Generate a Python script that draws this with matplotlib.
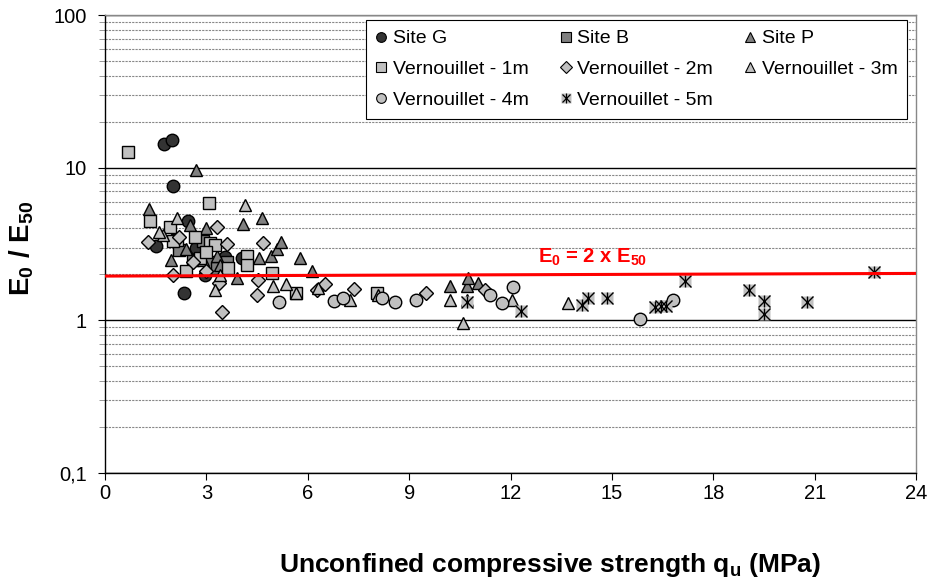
import matplotlib
matplotlib.use('Agg')
import matplotlib.pyplot as plt
from matplotlib.lines import Line2D
from matplotlib.legend_handler import HandlerTuple
from matplotlib.ticker import FixedLocator, LogLocator, NullFormatter

plt.rcParams['font.family'] = ['Liberation Sans', 'DejaVu Sans']
plt.rcParams['mathtext.fontset'] = 'custom'
plt.rcParams['mathtext.rm'] = 'Liberation Sans'
plt.rcParams['mathtext.bf'] = 'Liberation Sans:bold'

# --- data (qu in MPa, E0/E50) ---
site_g_x = [1.75, 1.98, 2.0, 2.45, 1.5, 2.35, 2.95, 3.55, 4.05, 2.7, 3.2]
site_g_y = [14.2, 15.3, 7.6, 4.5, 3.05, 1.5, 1.97, 2.6, 2.55, 3.0, 2.3]

site_b_x = [2.2, 2.6, 3.1, 3.3, 2.9, 3.6]
site_b_y = [2.9, 2.5, 2.4, 2.2, 3.3, 2.4]

site_p_x = [1.3, 2.7, 1.95, 2.5, 3.0, 2.4, 3.3, 3.9, 4.08, 4.64, 4.55, 4.9, 5.1, 5.2,
            5.77, 6.12, 10.2, 10.7, 10.75, 11.05, 2.9, 3.4]
site_p_y = [5.4, 9.6, 2.47, 4.2, 4.0, 2.95, 2.65, 1.9, 4.3, 4.7, 2.55, 2.65, 2.95, 3.25,
            2.58, 2.12, 1.69, 1.69, 1.9, 1.77, 2.5, 2.3]

v1_x = [0.68, 1.33, 1.92, 2.13, 2.66, 3.1, 3.25, 2.8, 2.4, 3.64, 4.2, 4.2, 4.94, 5.65,
        8.05, 3.08, 2.0, 3.0]
v1_y = [12.6, 4.5, 4.06, 3.34, 3.5, 3.2, 3.1, 2.58, 2.12, 2.19, 2.66, 2.3, 2.03, 1.52,
        1.5, 5.84, 3.3, 2.8]

v2_x = [1.27, 2.0, 2.6, 3.3, 3.6, 3.37, 3.45, 4.5, 4.53, 4.67, 6.27, 6.5, 7.37, 9.5,
        11.24, 3.0, 2.2]
v2_y = [3.24, 1.97, 2.4, 4.06, 3.15, 1.75, 1.13, 1.46, 1.83, 3.19, 1.57, 1.72, 1.6, 1.5,
        1.57, 2.1, 3.5]

v3_x = [1.72, 2.13, 3.25, 3.4, 4.14, 4.97, 5.36, 5.65, 6.3, 7.25, 8.08, 10.2, 10.6,
        10.7, 12.04, 13.7, 1.6]
v3_y = [3.6, 4.7, 1.57, 1.97, 5.66, 1.69, 1.74, 1.52, 1.62, 1.35, 1.46, 1.35, 0.96,
        1.35, 1.35, 1.29, 3.8]

v4_x = [5.15, 6.78, 7.05, 8.2, 8.58, 9.2, 11.4, 11.75, 12.07, 15.83, 16.8]
v4_y = [1.31, 1.33, 1.41, 1.41, 1.31, 1.35, 1.46, 1.29, 1.65, 1.02, 1.35]

v5_x = [10.7, 12.3, 14.1, 14.3, 14.85, 16.27, 16.45, 16.6, 17.16, 19.05, 19.5, 19.5,
        20.77, 22.75]
v5_y = [1.31, 1.15, 1.27, 1.41, 1.41, 1.22, 1.25, 1.25, 1.8, 1.57, 1.33, 1.1, 1.31, 2.06]

ref_x = [0, 24]
ref_y = [1.95, 2.03]

x_ticks = [0, 3, 6, 9, 12, 15, 18, 21, 24]
y_ticks = [0.1, 1, 10, 100]
y_labels = ['0,1', '1', '10', '100']

dark = '#333333'
mid = '#808080'
light = '#c0c0c0'

fig = plt.figure(figsize=(9.31, 5.80), dpi=100)
ax = fig.add_axes([0.1128, 0.1845, 0.8712, 0.7895])

# grid
ax.set_yscale('log')
ax.set_xlim(0, 24)
ax.set_ylim(0.1, 100)
ax.yaxis.set_minor_locator(LogLocator(base=10, subs=range(2, 10)))
ax.yaxis.set_minor_formatter(NullFormatter())
ax.grid(True, which='major', axis='y', color='black', lw=1.0)
ax.grid(True, which='minor', axis='y', color='#888888', lw=0.8, ls=(0, (2, 1)))
ax.set_axisbelow(True)

ms = 9
kw = dict(ls='none', markeredgecolor='black', markeredgewidth=1.0, ms=ms)
ax.plot(site_g_x, site_g_y, 'o', color=dark, **kw, zorder=3)
ax.plot(site_b_x, site_b_y, 's', color=mid, **kw, zorder=3)
ax.plot(site_p_x, site_p_y, '^', color=mid, **kw, zorder=3)
ax.plot(v1_x, v1_y, 's', color=light, **kw, zorder=3)
ax.plot(v2_x, v2_y, 'D', color=light, ls='none', markeredgecolor='black',
        markeredgewidth=1.0, ms=7, zorder=3)
ax.plot(v3_x, v3_y, '^', color=light, **kw, zorder=3)
ax.plot(v4_x, v4_y, 'o', color=light, **kw, zorder=3)
ax.plot(v5_x, v5_y, 's', color=light, ls='none', markeredgecolor='none', ms=ms, zorder=3)
ax.plot(v5_x, v5_y, 'x', color='black', ls='none', ms=8, mew=1.0, zorder=4)
ax.plot(v5_x, v5_y, '|', color='black', ls='none', ms=9, mew=1.0, zorder=4)

ax.plot(ref_x, ref_y, color='red', lw=2.2, zorder=5)
ax.text(12.8, 2.2, 'E$_\\mathbf{0}$ = 2 x E$_\\mathbf{50}$', color='red', fontsize=14.5,
        fontweight='bold', ha='left', va='bottom')

# axes styling
ax.set_xticks(x_ticks)
ax.set_xticklabels([str(t) for t in x_ticks])
ax.yaxis.set_major_locator(FixedLocator(y_ticks))
ax.set_yticklabels(y_labels)
ax.tick_params(axis='both', which='major', labelsize=14.5, direction='out', length=5,
               color='black')
ax.tick_params(axis='x', which='major', pad=3)
ax.tick_params(axis='y', which='major', pad=8)
ax.tick_params(axis='y', which='minor', direction='out', length=4, color='#888888')
for s in ['left', 'bottom']:
    ax.spines[s].set_color('black')
    ax.spines[s].set_linewidth(1.0)
for s in ['top', 'right']:
    ax.spines[s].set_color('#888888')
    ax.spines[s].set_linewidth(1.0)

# axis titles, placed in figure pixels
fig.text(22 / 931, 1 - 248 / 580, 'E$_\\mathbf{0}$ / E$_\\mathbf{50}$',
         fontsize=20, fontweight='bold', rotation=90, ha='center', va='center')
fig.text(550 / 931, 1 - 572 / 580, 'Unconfined compressive strength q$_\\mathbf{u}$ (MPa)',
         fontsize=19, fontweight='bold', ha='center', va='baseline')

# legend
lms = 7
def h(marker, face, size=lms):
    return Line2D([], [], marker=marker, ls='none', markerfacecolor=face,
                  markeredgecolor='black', markeredgewidth=0.8, ms=size)

h5 = (Line2D([], [], marker='s', ls='none', markerfacecolor=light,
             markeredgecolor='none', ms=lms),
      Line2D([], [], marker='x', ls='none', color='black', ms=6, mew=0.9),
      Line2D([], [], marker='|', ls='none', color='black', ms=7, mew=0.9))

handles = [h('o', dark), h('s', light), h('o', light),
           h('s', mid), h('D', light, 6), h5,
           h('^', mid), h('^', light)]
labels = ['Site G', 'Vernouillet - 1m', 'Vernouillet - 4m',
          'Site B', 'Vernouillet - 2m', 'Vernouillet - 5m',
          'Site P', 'Vernouillet - 3m']
leg = ax.legend(handles, labels, ncol=3, loc='upper right',
                bbox_to_anchor=(0.989, 0.989), fontsize=14, frameon=True,
                fancybox=False, edgecolor='black', framealpha=1,
                handlelength=0.6, handletextpad=0.3, columnspacing=1.6,
                labelspacing=0.68, borderpad=0.5, borderaxespad=0,
                handler_map={tuple: HandlerTuple(ndivide=1, pad=0)})
leg.get_frame().set_linewidth(0.8)
leg.set_zorder(10)

fig.savefig('out.png', dpi=100)
